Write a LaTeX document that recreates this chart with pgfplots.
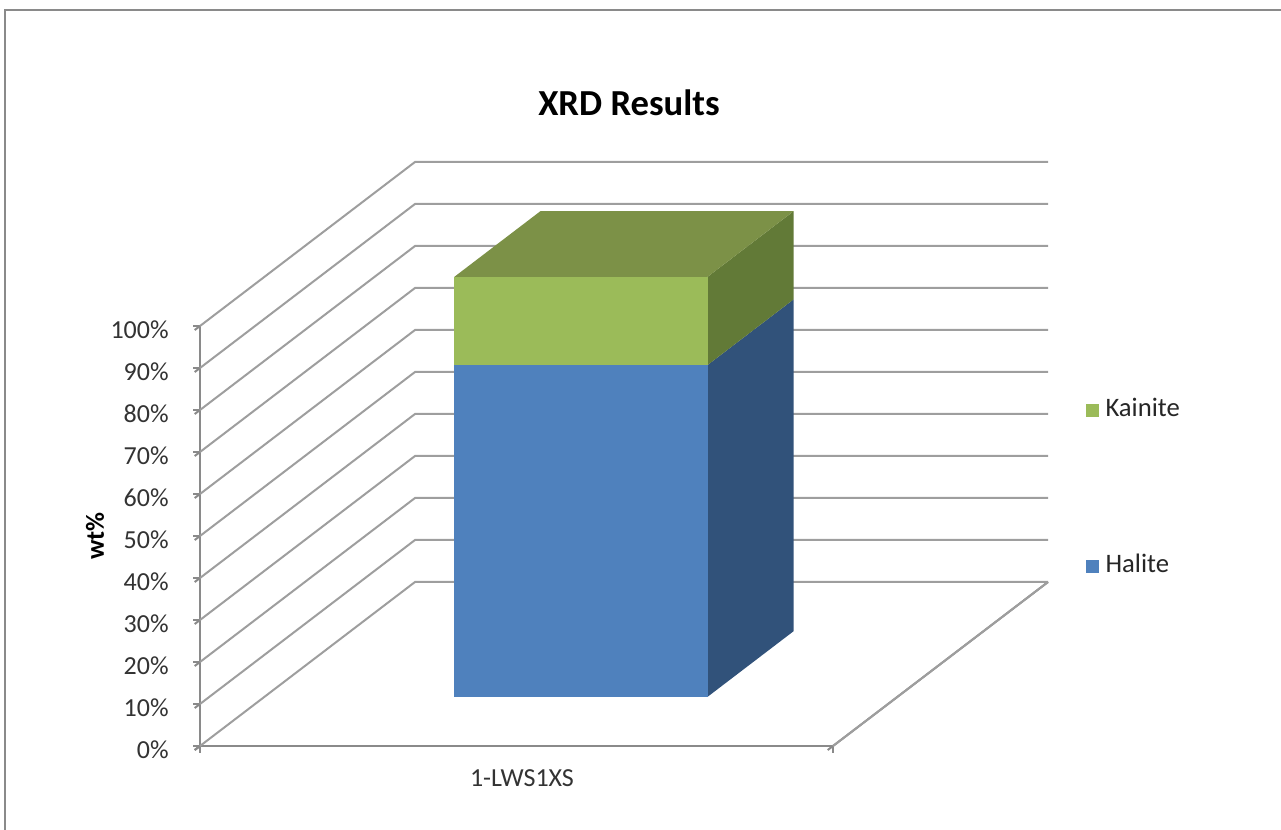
\documentclass[border=0pt]{standalone}
\usepackage{fontspec}
\setmainfont{Carlito}
\usepackage{pgfplots}
\pgfplotsset{compat=1.18}
\definecolor{haliteF}{HTML}{4F81BD}
\definecolor{haliteS}{HTML}{31527A}
\definecolor{kainF}{HTML}{9BBB59}
\definecolor{kainS}{HTML}{627A37}
\definecolor{kainT}{HTML}{7C9147}
\definecolor{gridc}{HTML}{9E9E9E}
\definecolor{axc}{HTML}{8A8A8A}
\begin{document}
\begin{tikzpicture}[x=1pt,y=1pt]
\useasboundingbox (0,0) rectangle (960.75,622.5);
\draw[line width=1.5pt, color=axc] (3.75,-20) -- (3.75,615) -- (990,615);
\begin{axis}[
  at={(150pt,63pt)}, anchor=origin,
  x={(474.75pt,0pt)}, y={(161.25pt,123pt)}, z={(0pt,3.15pt)},
  xmin=0, xmax=1, ymin=0, ymax=1, zmin=0, zmax=100,
  clip=false, no markers,
  axis lines*=left,
  axis line style={color=axc, line width=1.5pt},
  tick style={color=axc, line width=1.5pt},
  tick align=outside, major tick length=5pt,
  ytick=\empty,
  xtick={0,1}, xticklabels={,},
  extra x ticks={0.5}, extra x tick labels={1-LWS1XS},
  extra x tick style={major tick length=0pt},
  xticklabel style={yshift=-14pt, xshift=9pt},
  ztick={0,10,...,100},
  /pgf/number format/assume math mode=true,
  zticklabel={\pgfmathprintnumber{\tick}\%},
  zticklabel style={anchor=east, xshift=-16pt},
  tick label style={font=\fontsize{19.5}{23}\selectfont, color=black!80},
  reverse legend,
  legend image code/.code={\fill[#1] (0pt,-4.875pt) rectangle (9.75pt,4.875pt); \path (13pt,0pt);},
  legend style={at={(axis cs:1.3985,0,61.4)}, anchor=west, draw=none, fill=none,
    font=\fontsize{20}{24}\selectfont, text=black!85, row sep=96pt, inner sep=0pt,
    nodes={inner sep=2pt, text height=13pt, text depth=4pt}},
  legend cell align=left,
]
\pgfplotsinvokeforeach{0,10,...,100}{
  \addplot3[gridc, line width=1.5pt, forget plot] coordinates {(0,0,#1) (0,1,#1) (1,1,#1)};
}
\addplot3[gridc, line width=1.5pt, forget plot] coordinates {(1,0,0) (1,1,0)};
% right side faces
\addplot3[fill=haliteS, draw=none, forget plot] coordinates {(0.7,0.3,0) (0.7,0.7,0) (0.7,0.7,79) (0.7,0.3,79)} -- cycle;
\addplot3[fill=kainS, draw=none, forget plot] coordinates {(0.7,0.3,79) (0.7,0.7,79) (0.7,0.7,100) (0.7,0.3,100)} -- cycle;
% top face
\addplot3[fill=kainT, draw=none, forget plot] coordinates {(0.3,0.3,100) (0.7,0.3,100) (0.7,0.7,100) (0.3,0.7,100)} -- cycle;
% front faces
\addplot3[fill=haliteF, draw=none] coordinates {(0.3,0.3,0) (0.7,0.3,0) (0.7,0.3,79) (0.3,0.3,79)} -- cycle;
\addlegendentry{Halite}
\addplot3[fill=kainF, draw=none] coordinates {(0.3,0.3,79) (0.7,0.3,79) (0.7,0.3,100) (0.3,0.3,100)} -- cycle;
\addlegendentry{Kainite}
\end{axis}
\node[anchor=base, font=\bfseries\fontsize{27.5}{32}\selectfont] at (471.75,535.5) {XRD Results};
\node[rotate=90, font=\bfseries\fontsize{19.5}{23}\selectfont] at (71.25,220.5) {wt\%};
\end{tikzpicture}
\end{document}
